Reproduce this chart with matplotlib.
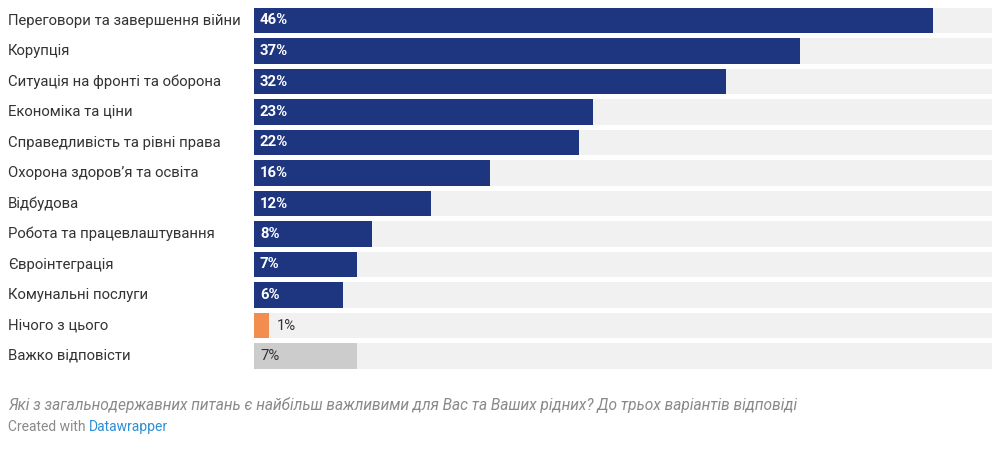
import matplotlib
matplotlib.use("Agg")
from matplotlib import pyplot as plt
from matplotlib import transforms

categories = [
    "Переговори та завершення війни",
    "Корупція",
    "Ситуація на фронті та оборона",
    "Економіка та ціни",
    "Справедливість та рівні права",
    "Охорона здоров’я та освіта",
    "Відбудова",
    "Робота та працевлаштування",
    "Євроінтеграція",
    "Комунальні послуги",
    "Нічого з цього",
    "Важко відповісти",
]
values = [46, 37, 32, 23, 22, 16, 12, 8, 7, 6, 1, 7]
kinds = ["topic"] * 10 + ["none", "hard"]
axis_max = 50

bar_colors = {"topic": "#1e3680", "none": "#f28c4f", "hard": "#cccccc"}
text_colors = {"topic": "white", "none": "#333333", "hard": "#333333"}

plt.rcParams["font.family"] = ["Roboto", "DejaVu Sans"]

W, H = 1004, 451
fig = plt.figure(figsize=(W / 100, H / 100), dpi=100)
fig.patch.set_facecolor("white")

top_px, row_px = 5.25, 30.5
bottom_px = top_px + row_px * len(categories)
ax = fig.add_axes([254 / W, 1 - bottom_px / H, (992 - 254) / W, (bottom_px - top_px) / H])
ax.set_xlim(0, axis_max)
ax.set_ylim(len(categories) - 0.5, -0.5)
ax.axis("off")

ypos = range(len(categories))
ax.barh(ypos, [axis_max] * len(categories), height=0.82, color="#f1f1f1", zorder=1)
ax.barh(ypos, values, height=0.82, color=[bar_colors[k] for k in kinds], zorder=2)

label_tr = transforms.blended_transform_factory(fig.transFigure, ax.transData)
for i, (cat, val, kind) in enumerate(zip(categories, values, kinds)):
    ax.text(8 / W, i, cat, transform=label_tr, ha="left", va="center",
            fontsize=10.7, color="#333333")
    if kind == "none":
        ax.text(val + 0.55, i, f"{val}%", ha="left", va="center",
                fontsize=10.7, color=text_colors[kind], zorder=3)
    else:
        ax.text(0.4, i, f"{val}%", ha="left", va="center", fontsize=10.7,
                fontweight="bold" if kind == "topic" else "normal",
                color=text_colors[kind], zorder=3)

fig.text(8 / W, 1 - 405 / H,
         "Які з загальнодержавних питань є найбільш важливими для Вас та Ваших рідних? До трьох варіантів відповіді",
         ha="left", va="center", fontsize=11.2, style="italic", color="#8a8a8a")
t = fig.text(8 / W, 1 - 427 / H, "Created with ", ha="left", va="center",
             fontsize=10, color="#8a8a8a")
fig.canvas.draw()
bb = t.get_window_extent()
fig.text(bb.x1 / W, 1 - 427 / H, "Datawrapper", ha="left", va="center",
         fontsize=10, color="#2c8fd6")

fig.savefig("out.png", dpi=100)
